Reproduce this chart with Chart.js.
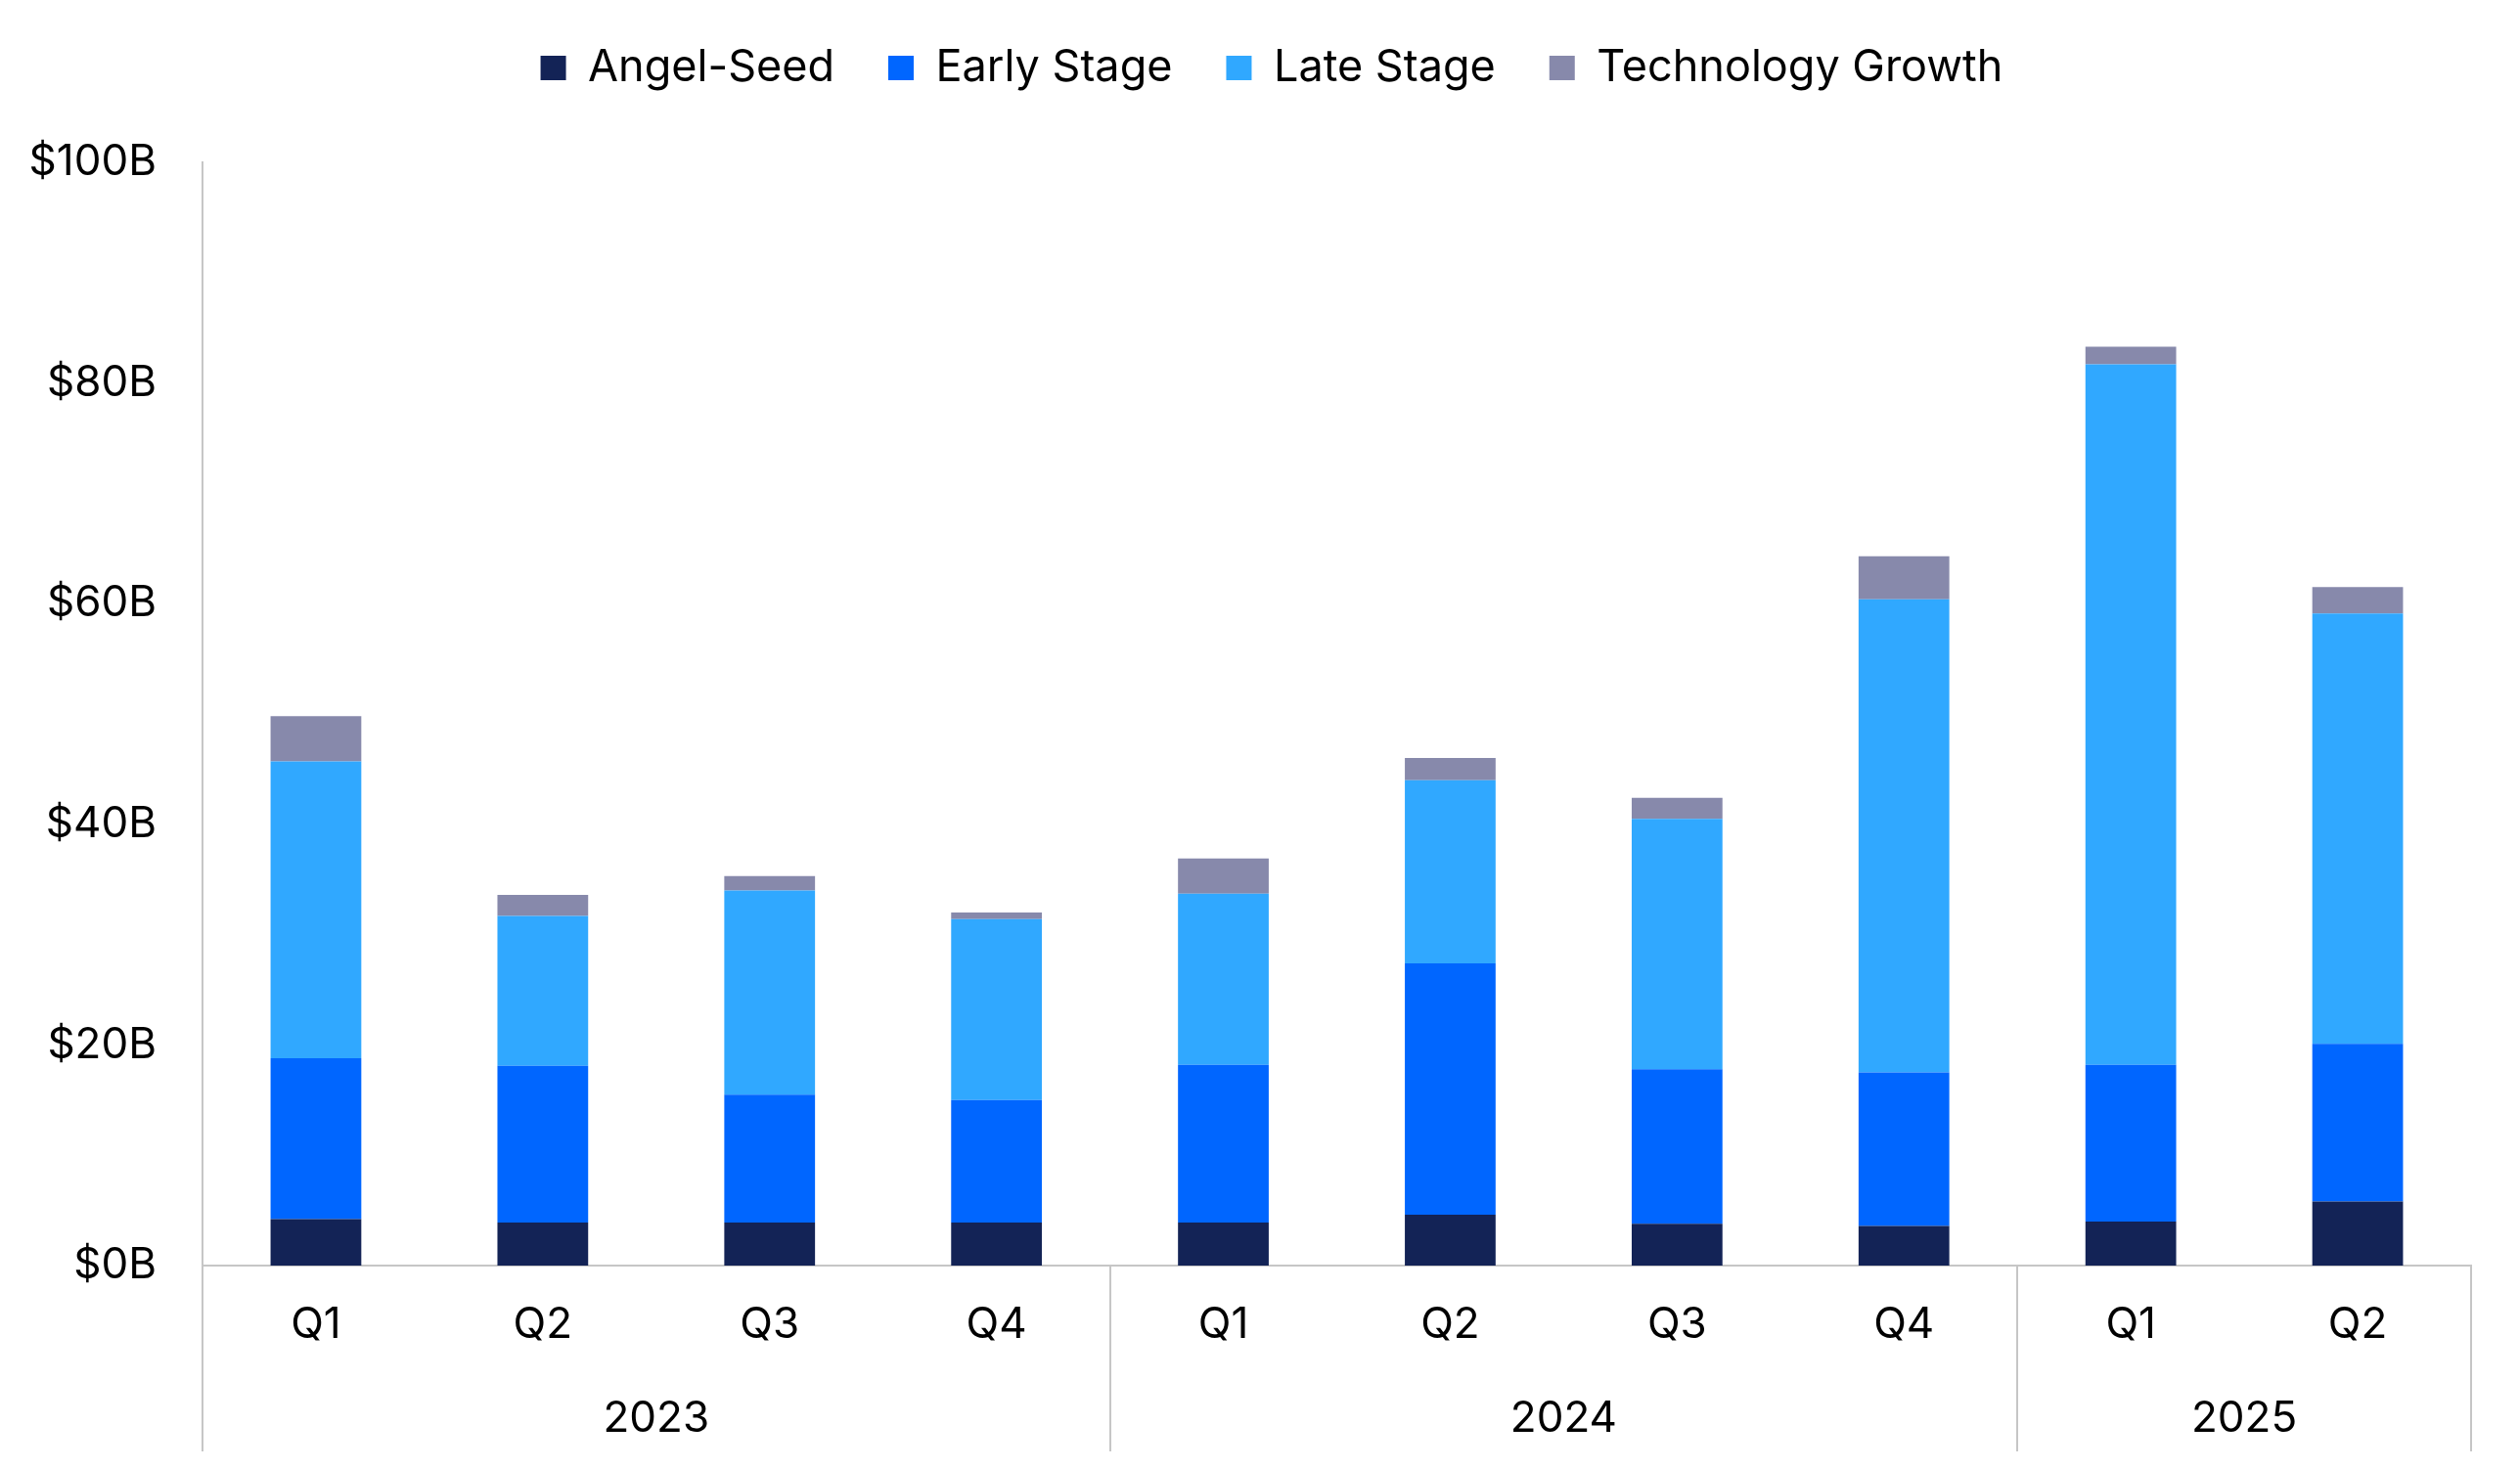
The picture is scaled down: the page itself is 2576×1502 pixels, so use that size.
<!DOCTYPE html>
<html>
<head>
<meta charset="utf-8">
<script src="https://cdn.jsdelivr.net/npm/chart.js@4.4.1/dist/chart.umd.min.js"></script>
<style>
  html, body { margin: 0; padding: 0; background: #fff; }
  #wrap { width: 2576px; height: 1502px; position: relative; }
</style>
</head>
<body>
<div id="wrap"><canvas id="vcChart" width="2576" height="1502"></canvas></div>
<script>
// Chart data (USD billions)
const quarters = ["Q1", "Q2", "Q3", "Q4", "Q1", "Q2", "Q3", "Q4", "Q1", "Q2"];
const years = ["2023", "2024", "2025"];
const quartersPerYear = [4, 4, 2];
const yTicks = [0, 20, 40, 60, 80, 100];

const angelSeed = [4.2, 3.9, 3.9, 3.9, 3.9, 4.6, 3.8, 3.6, 4.0, 5.8];
const earlyStage = [14.6, 14.2, 11.6, 11.1, 14.3, 22.8, 14.0, 13.9, 14.2, 14.3];
const lateStage = [26.9, 13.6, 18.5, 16.4, 15.5, 16.6, 22.7, 42.9, 63.5, 39.0];
const techGrowth = [4.1, 1.9, 1.3, 0.6, 3.2, 2.0, 1.9, 3.9, 1.6, 2.4];

const FONT = "Inter, 'Noto Sans', sans-serif";
const lineColor = "#c6c6c6";

// Extra room under the legend, and nudge it right a bit
const legendGap = {
  id: "legendGap",
  beforeInit(chart) {
    const origFit = chart.legend.fit;
    chart.legend.fit = function () {
      origFit.bind(chart.legend)();
      this.height += 64;
    };
  },
  afterLayout(chart) {
    chart.legend.left += 37;
    chart.legend.right += 37;
  },
};

// Year group labels + separators under the quarter axis
const yearGroups = {
  id: "yearGroups",
  afterDraw(chart) {
    const { ctx, scales } = chart;
    const x = scales.x;
    const axisY = x.top;
    const bottom = chart.height - 18;
    const half = (x.getPixelForValue(1) - x.getPixelForValue(0)) / 2;
    ctx.save();
    ctx.strokeStyle = lineColor;
    ctx.lineWidth = 2;
    let idx = 0;
    const edges = [x.getPixelForValue(0) - half];
    quartersPerYear.forEach((n, i) => {
      const start = x.getPixelForValue(idx) - half;
      const end = x.getPixelForValue(idx + n - 1) + half;
      edges.push(end);
      ctx.fillStyle = "#000";
      ctx.font = "44px " + FONT;
      ctx.textAlign = "center";
      ctx.textBaseline = "middle";
      ctx.fillText(years[i], (start + end) / 2, 1451);
      idx += n;
    });
    edges.forEach((ex) => {
      ctx.beginPath();
      ctx.moveTo(Math.round(ex), axisY);
      ctx.lineTo(Math.round(ex), bottom);
      ctx.stroke();
    });
    ctx.restore();
  },
};

new Chart(document.getElementById("vcChart"), {
  type: "bar",
  data: {
    labels: quarters,
    datasets: [
      { label: "Angel-Seed", data: angelSeed, backgroundColor: "#132356" },
      { label: "Early Stage", data: earlyStage, backgroundColor: "#0066ff" },
      { label: "Late Stage", data: lateStage, backgroundColor: "#30a8ff" },
      { label: "Technology Growth", data: techGrowth, backgroundColor: "#8789ab" },
    ],
  },
  options: {
    responsive: false,
    devicePixelRatio: 1,
    animation: false,
    layout: { padding: { top: -8, right: 50, bottom: 0, left: 0 } },
    datasets: { bar: { barPercentage: 0.4, categoryPercentage: 1 } },
    plugins: {
      tooltip: { enabled: false },
      legend: {
        position: "top",
        labels: {
          font: { family: FONT, size: 45 },
          color: "#000",
          boxWidth: 26,
          boxHeight: 25,
          padding: 55,
        },
      },
    },
    scales: {
      x: {
        stacked: true,
        grid: { display: false },
        border: { display: true, color: lineColor, width: 2 },
        ticks: {
          font: { family: FONT, size: 44 },
          color: "#000",
          padding: 26,
          maxRotation: 0,
        },
        afterFit: (scale) => { scale.height = 208; },
      },
      y: {
        stacked: true,
        min: 0,
        max: 100,
        grid: { display: false },
        border: { display: true, color: lineColor, width: 2 },
        afterBuildTicks: (scale) => {
          scale.ticks = yTicks.map((v) => ({ value: v }));
        },
        ticks: {
          font: { family: FONT, size: 44 },
          color: "#000",
          padding: 39,
          callback: (v) => "$" + v + "B",
        },
        afterFit: (scale) => { scale.width = 207; },
      },
    },
  },
  plugins: [legendGap, yearGroups],
});
</script>
</body>
</html>
